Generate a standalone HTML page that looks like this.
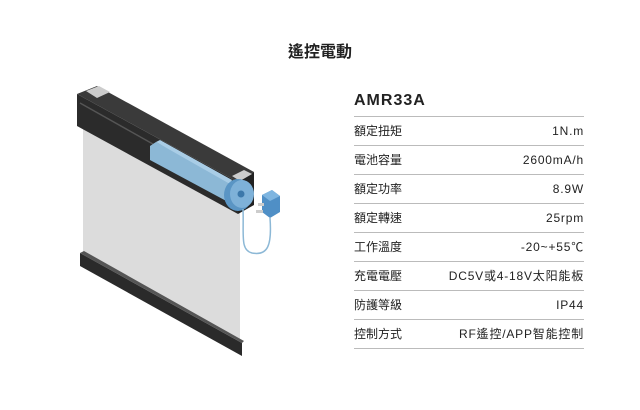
<!DOCTYPE html>
<html><head><meta charset="utf-8"><style>
body{margin:0;width:640px;height:410px;background:#fff;position:relative;overflow:hidden;font-family:"Liberation Sans","Noto Sans CJK TC",sans-serif;color:#222}
.t{position:absolute;left:0;width:640px;top:38px;text-align:center;font-size:16px;font-weight:bold;color:#222}
.m{position:absolute;left:354px;top:92px;font-size:16px;font-weight:bold;letter-spacing:1px;color:#222}
.r{position:absolute;left:354px;width:230px;height:29px;border-top:1px solid #bbb;font-size:12px;line-height:29px}
.r span{float:right;letter-spacing:.8px}
.last{position:absolute;left:354px;width:230px;top:348px;border-top:1px solid #bbb}
</style></head><body>
<div class="t">遙控電動</div>
<div class="m">AMR33A</div>
<div class="r" style="top:116px">額定扭矩<span>1N.m</span></div>
<div class="r" style="top:145px">電池容量<span>2600mA/h</span></div>
<div class="r" style="top:174px">額定功率<span>8.9W</span></div>
<div class="r" style="top:203px">額定轉速<span>25rpm</span></div>
<div class="r" style="top:232px">工作溫度<span>-20~+55℃</span></div>
<div class="r" style="top:261px">充電電壓<span>DC5V或4-18V太阳能板</span></div>
<div class="r" style="top:290px">防護等級<span>IP44</span></div>
<div class="r" style="top:319px">控制方式<span>RF遙控/APP智能控制</span></div>
<div class="last"></div>
<svg width="640" height="410" style="position:absolute;left:0;top:0">
<polygon points="83,125 240,212 240,340 83,255" fill="#dcdcdc"/>
<polygon points="80,253 242,343 242,356 80,266" fill="#2a2a2a"/>
<polygon points="80,253 84,251 244,341 242,343" fill="#555"/>
<polygon points="77,94 238,182 238,214 77,126" fill="#2b2b2b"/>
<polygon points="77,94 97,86 254,172 238,182" fill="#3a3a3a"/>
<polygon points="238,182 254,172 254,205 238,214" fill="#222"/>
<polygon points="86,91 99,86 110,92 97,98" fill="#ccc"/>
<polygon points="232,176 244,170 252,174 240,181" fill="#ccc"/>
<line x1="80" y1="103" x2="160" y2="148" stroke="#555" stroke-width="1.5"/>
<polygon points="150,146 156,142 230,182 230,203 150,160" fill="#8cb8d6"/>
<polygon points="156,142 160,140 232,180 230,184" fill="#a9cde6"/>
<ellipse cx="238" cy="195" rx="14" ry="16" fill="#5a95c4"/>
<ellipse cx="242" cy="194" rx="12" ry="14" fill="#7eb1d8"/>
<circle cx="241" cy="194" r="3.5" fill="#3c78aa"/>
<path d="M243,209 C244,235 240,250 252,253 C268,256 272,245 270,218" fill="none" stroke="#8cb8d6" stroke-width="1.5"/>
<polygon points="262,195 272,190 280,196 280,212 270,218 262,212" fill="#4f8fc6"/>
<polygon points="262,195 272,190 280,196 270,201" fill="#7eb5e0"/>
<rect x="258" y="203" width="6" height="3" fill="#ccc"/>
<rect x="256" y="210" width="7" height="3" fill="#ccc"/>
</svg>
</body></html>
